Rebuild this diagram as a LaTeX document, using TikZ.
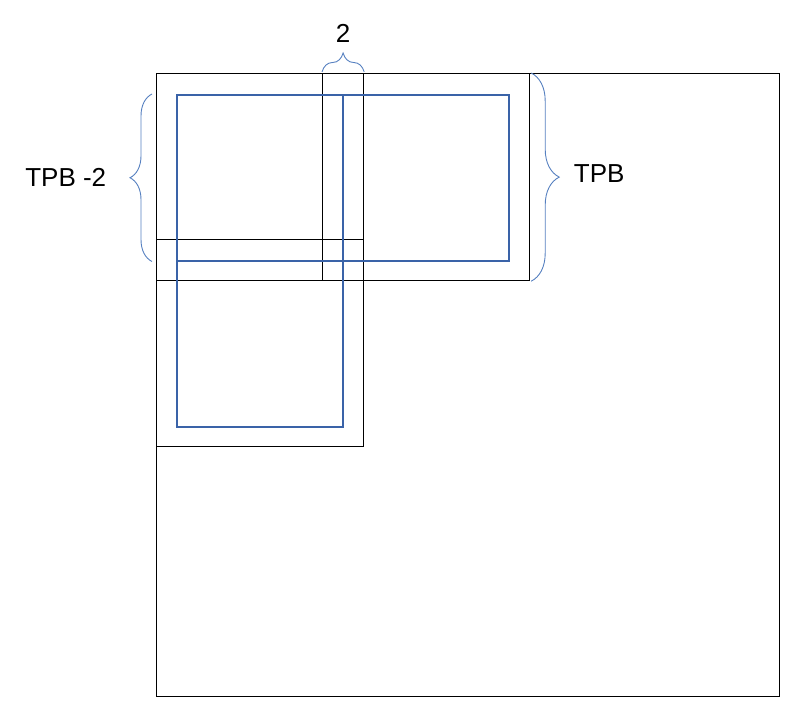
\documentclass[tikz,border=0pt]{standalone}
\usepackage{fontspec}
\setmainfont{Liberation Sans}
\usetikzlibrary{positioning,decorations.pathreplacing}
\definecolor{tileblue}{RGB}{58,99,168}
\definecolor{braceblue}{RGB}{86,128,192}
\tikzset{
	halo/.style={draw, line width=1.2pt, minimum size=207pt, inner sep=0, anchor=north west},
	tile/.style={draw=tileblue, line width=1.5pt, minimum size=166pt, inner sep=0, anchor=north west},
	accolade/.style={draw=braceblue, line width=0.9pt, decorate, decoration={brace, amplitude=#1}},
	lbl/.style={font=\fontsize{26}{30}\selectfont}
}
\begin{document}
\begin{tikzpicture}[x=1pt, y=-1pt]
		\useasboundingbox (0,0) rectangle (787,712);
		\node[draw, line width=1.1pt, minimum size=623pt, inner sep=0, anchor=north west] (grid) at (156,73) {};

		\foreach \n/\dx/\dy in {a/0/0, b/166/0, c/0/166} {
			\node[halo] (halo-\n) at (156+\dx, 73+\dy) {};
		}
		\foreach \n/\dx/\dy in {a/0/0, b/166/0, c/0/166} {
			\node[tile] (tile-\n) at (176+\dx, 94+\dy) {};
		}

		\draw[accolade=19pt, decoration={raise=1pt}] (halo-b.north west) -- node[lbl, above=27pt] {2} (halo-a.north east);
		\draw[accolade=22pt, decoration={raise=4pt}] (halo-a.west |- tile-a.south) -- node[lbl, left=46pt] {TPB -2} (halo-a.west |- tile-a.north);
		\draw[accolade=28pt, decoration={raise=1pt}] (halo-b.north east) -- node[lbl, right=40pt, yshift=4pt] {TPB} (halo-b.south east);
	\end{tikzpicture}
\end{document}
